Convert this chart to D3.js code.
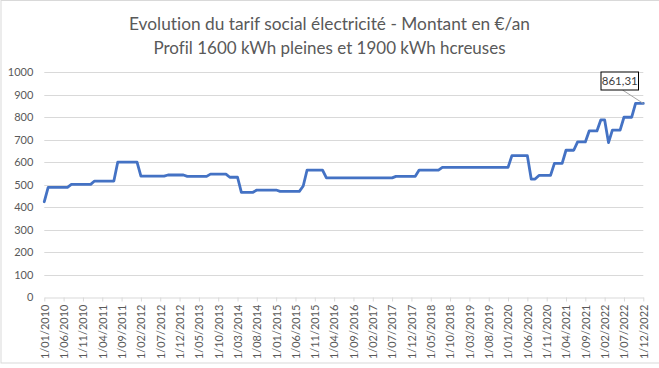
<!DOCTYPE html>
<html><head><meta charset="utf-8">
<script src="https://cdn.jsdelivr.net/npm/d3@7"></script>
<style>body{margin:0;background:#fff}svg{display:block}text{font-variant-ligatures:none;font-feature-settings:"liga" 0}</style>
</head><body><svg id="c" width="659" height="368"></svg>
<script>
const titleLines = ["Evolution du tarif social électricité - Montant en €/an", "Profil 1600 kWh pleines et 1900 kWh hcreuses"];
const startMonth = new Date(2010, 0, 1);
const endMonth = new Date(2022, 11, 1);
const yTicks = [0,100,200,300,400,500,600,700,800,900,1000];
const values = [
  424,488,488,488,488,488,488,501,501,501,501,501,
  501,516,516,516,516,516,516,600,600,600,600,600,
  600,538,538,538,538,538,538,538,543,543,543,543,
  543,537,537,537,537,537,537,547,547,547,547,547,
  533,533,533,466,466,466,466,476,476,476,476,476,
  476,470,470,470,470,470,470,494,565,565,565,565,
  565,530,530,530,530,530,530,530,530,530,530,530,
  530,530,530,530,530,530,530,537,537,537,537,537,
  537,565,565,565,565,565,565,577,577,577,577,577,
  577,577,577,577,577,577,577,577,577,577,577,577,
  577,629,629,629,629,629,525,525,541,541,541,541,
  595,595,595,653,653,653,690,690,690,739,739,739,
  788,788,687,743,743,743,800,800,800,861.31,861.31,861.31
];
const labelText = "861,31";

const months = d3.timeMonth.range(startMonth, d3.timeMonth.offset(endMonth, 1));
const fmt = d => `${d.getDate()}/${String(d.getMonth()+1).padStart(2,"0")}/${d.getFullYear()}`;
const cats = months.map(fmt);
const data = cats.map((c, i) => ({c, v: values[i]}));

const svg = d3.select("#c");
const font = "Lato, 'Open Sans', sans-serif";
const grey = "#595959";

svg.append("rect").attr("x",1).attr("y",0.5).attr("width",700).attr("height",362.5)
  .attr("fill","#fff").attr("stroke","#d9d9d9");

const x = d3.scalePoint().domain(cats).range([44.3, 643.3]);
const y = d3.scaleLinear().domain([0,1000]).range([297, 72.3]);

// title
svg.append("g").selectAll("text").data(titleLines).join("text")
  .attr("x", 329.5).attr("y", (d,i)=> 29.5 + i*24)
  .attr("text-anchor","middle").attr("font-family",font).attr("font-size",18)
  .attr("fill",grey)
  .attr("textLength",(d,i)=> i===0 ? 401 : 352).attr("lengthAdjust","spacingAndGlyphs")
  .text(d=>d);

// gridlines
svg.append("g").selectAll("line").data(yTicks.filter(t=>t>0)).join("line")
  .attr("x1",44.3).attr("x2",643.3).attr("y1",d=>Math.round(y(d))+0.5).attr("y2",d=>Math.round(y(d))+0.5)
  .attr("stroke","#d9d9d9").attr("stroke-width",1);

// y axis labels
const ya = svg.append("g").attr("transform","translate(44.3,0)")
  .call(d3.axisLeft(y).tickValues(yTicks).tickSize(0).tickPadding(11).tickFormat(d3.format("d")));
ya.select(".domain").remove();
ya.selectAll("text").attr("font-family",font).attr("font-size",11).attr("fill",grey);

// x axis
const tickCats = cats.filter((c,i)=> i%5===0);
const xa = svg.append("g").attr("transform",`translate(0,${Math.round(y(0))+0.5})`)
  .call(d3.axisBottom(x).tickValues(tickCats).tickSize(4).tickSizeOuter(0));
xa.select(".domain").attr("stroke","#d9d9d9");
xa.selectAll(".tick line").attr("stroke","#d9d9d9");
xa.selectAll("text").attr("font-family",font).attr("font-size",11).attr("fill",grey)
  .attr("transform","rotate(-90)").attr("text-anchor","end")
  .attr("x",-7).attr("y",0).attr("dy","0.35em");

// line
const line = d3.line().x(d=>x(d.c)).y(d=>y(d.v));
svg.append("path").datum(data).attr("d",line).attr("fill","none")
  .attr("stroke","#4472c4").attr("stroke-width",2.8).attr("stroke-linejoin","round").attr("stroke-linecap","round");

// data label
const last = data[data.length-1];
const lx = x(last.c), ly = y(last.v);
svg.append("line").attr("x1",622.5).attr("y1",90).attr("x2",lx).attr("y2",ly)
  .attr("stroke","#a6a6a6").attr("stroke-width",1);
svg.append("rect").attr("x",601).attr("y",72).attr("width",37.5).attr("height",18)
  .attr("fill","#fff").attr("stroke","#000").attr("stroke-width",1);
svg.append("text").attr("x",619.75).attr("y",85).attr("text-anchor","middle")
  .attr("font-family",font).attr("font-size",11.5).attr("fill","#404040").text(labelText);
</script></body></html>
